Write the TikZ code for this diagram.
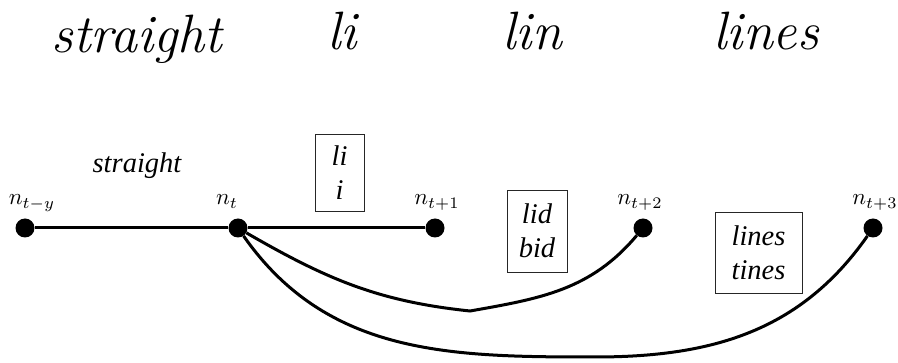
\documentclass[tikz,border=0pt]{standalone}
\usepackage{amsmath, amssymb}
\usepackage{fontspec}
\newfontfamily\serifit{Liberation Serif}
\usepackage{tikz}
\usetikzlibrary{positioning, calc}

\newcommand{\nlab}[1]{\scalebox{2.3}{$n_{#1}$}}

\tikzset{
  punto/.style={circle, fill, inner sep=0pt, minimum size=19pt},
  etich/.style={anchor=base, inner sep=0pt},
  riquadro/.style={draw=black!85, line width=0.8pt, align=center, inner sep=2pt,
    font=\fontsize{28.5}{34}\selectfont\serifit\itshape},
  testo/.style={anchor=base, inner sep=0pt, font=\fontsize{28.5}{34}\selectfont\serifit\itshape},
  mano/.style={anchor=base, inner sep=0pt, font=\fontsize{54}{60}\selectfont\itshape},
  arco/.style={line width=3pt},
}

\begin{document}
\begin{tikzpicture}[x=1pt, y=1pt]
  \useasboundingbox (0,0) rectangle (898,-363);

  % Scritta a mano
  \node[mano] (hstraight) at (137,-53) {straight};
  \node[mano] (hli) at (342,-50) {li};
  \node[mano] (hlin) at (532,-50) {lin};
  \node[mano] (hlines) at (766,-50) {lines};

  % Nodi
  \node[punto] (ny) at (25,-228) {};
  \node[punto] (nt) at (238,-228) {};
  \node[punto] (n1) at (435,-228) {};
  \node[punto] (n2) at (643,-228) {};
  \node[punto] (n3) at (873,-228) {};

  % Etichette dei nodi
  \node[etich] (lny) at ($(ny)+(7,23)$) {\nlab{t-y}};
  \node[etich] (lnt) at ($(nt)+(-11,23)$) {\nlab{t}};
  \node[etich] (ln1) at ($(n1)+(2,23)$) {\nlab{t+1}};
  \node[etich] (ln2) at ($(n2)+(-3,23)$) {\nlab{t+2}};
  \node[etich] (ln3) at ($(n3)+(2,23)$) {\nlab{t+3}};

  % Riquadri e testo
  \node[testo] (tstraight) at (137,-173) {straight};
  \node[riquadro, minimum width=49pt, minimum height=77pt] (bli) at (339.5,-172.5) {li\\ i};
  \node[riquadro, minimum width=60pt, minimum height=82pt] (blid) at (537,-231) {lid\\ bid};
  \node[riquadro, minimum width=87pt, minimum height=81pt] (blines) at (758.5,-252.5) {lines\\ tines};

  % Archi
  \draw[arco] (ny) -- (nt) -- (n1);
  \coordinate (fondo1) at (470,-311);
  \coordinate (fondo2) at (595,-357);
  \draw[arco] (nt) to[out=-30, in=174] (fondo1) to[out=10, in=-130] (n2);
  \draw[arco] (nt) to[out=-55, in=180] (fondo2) to[out=0, in=-125] (n3);
\end{tikzpicture}
\end{document}
